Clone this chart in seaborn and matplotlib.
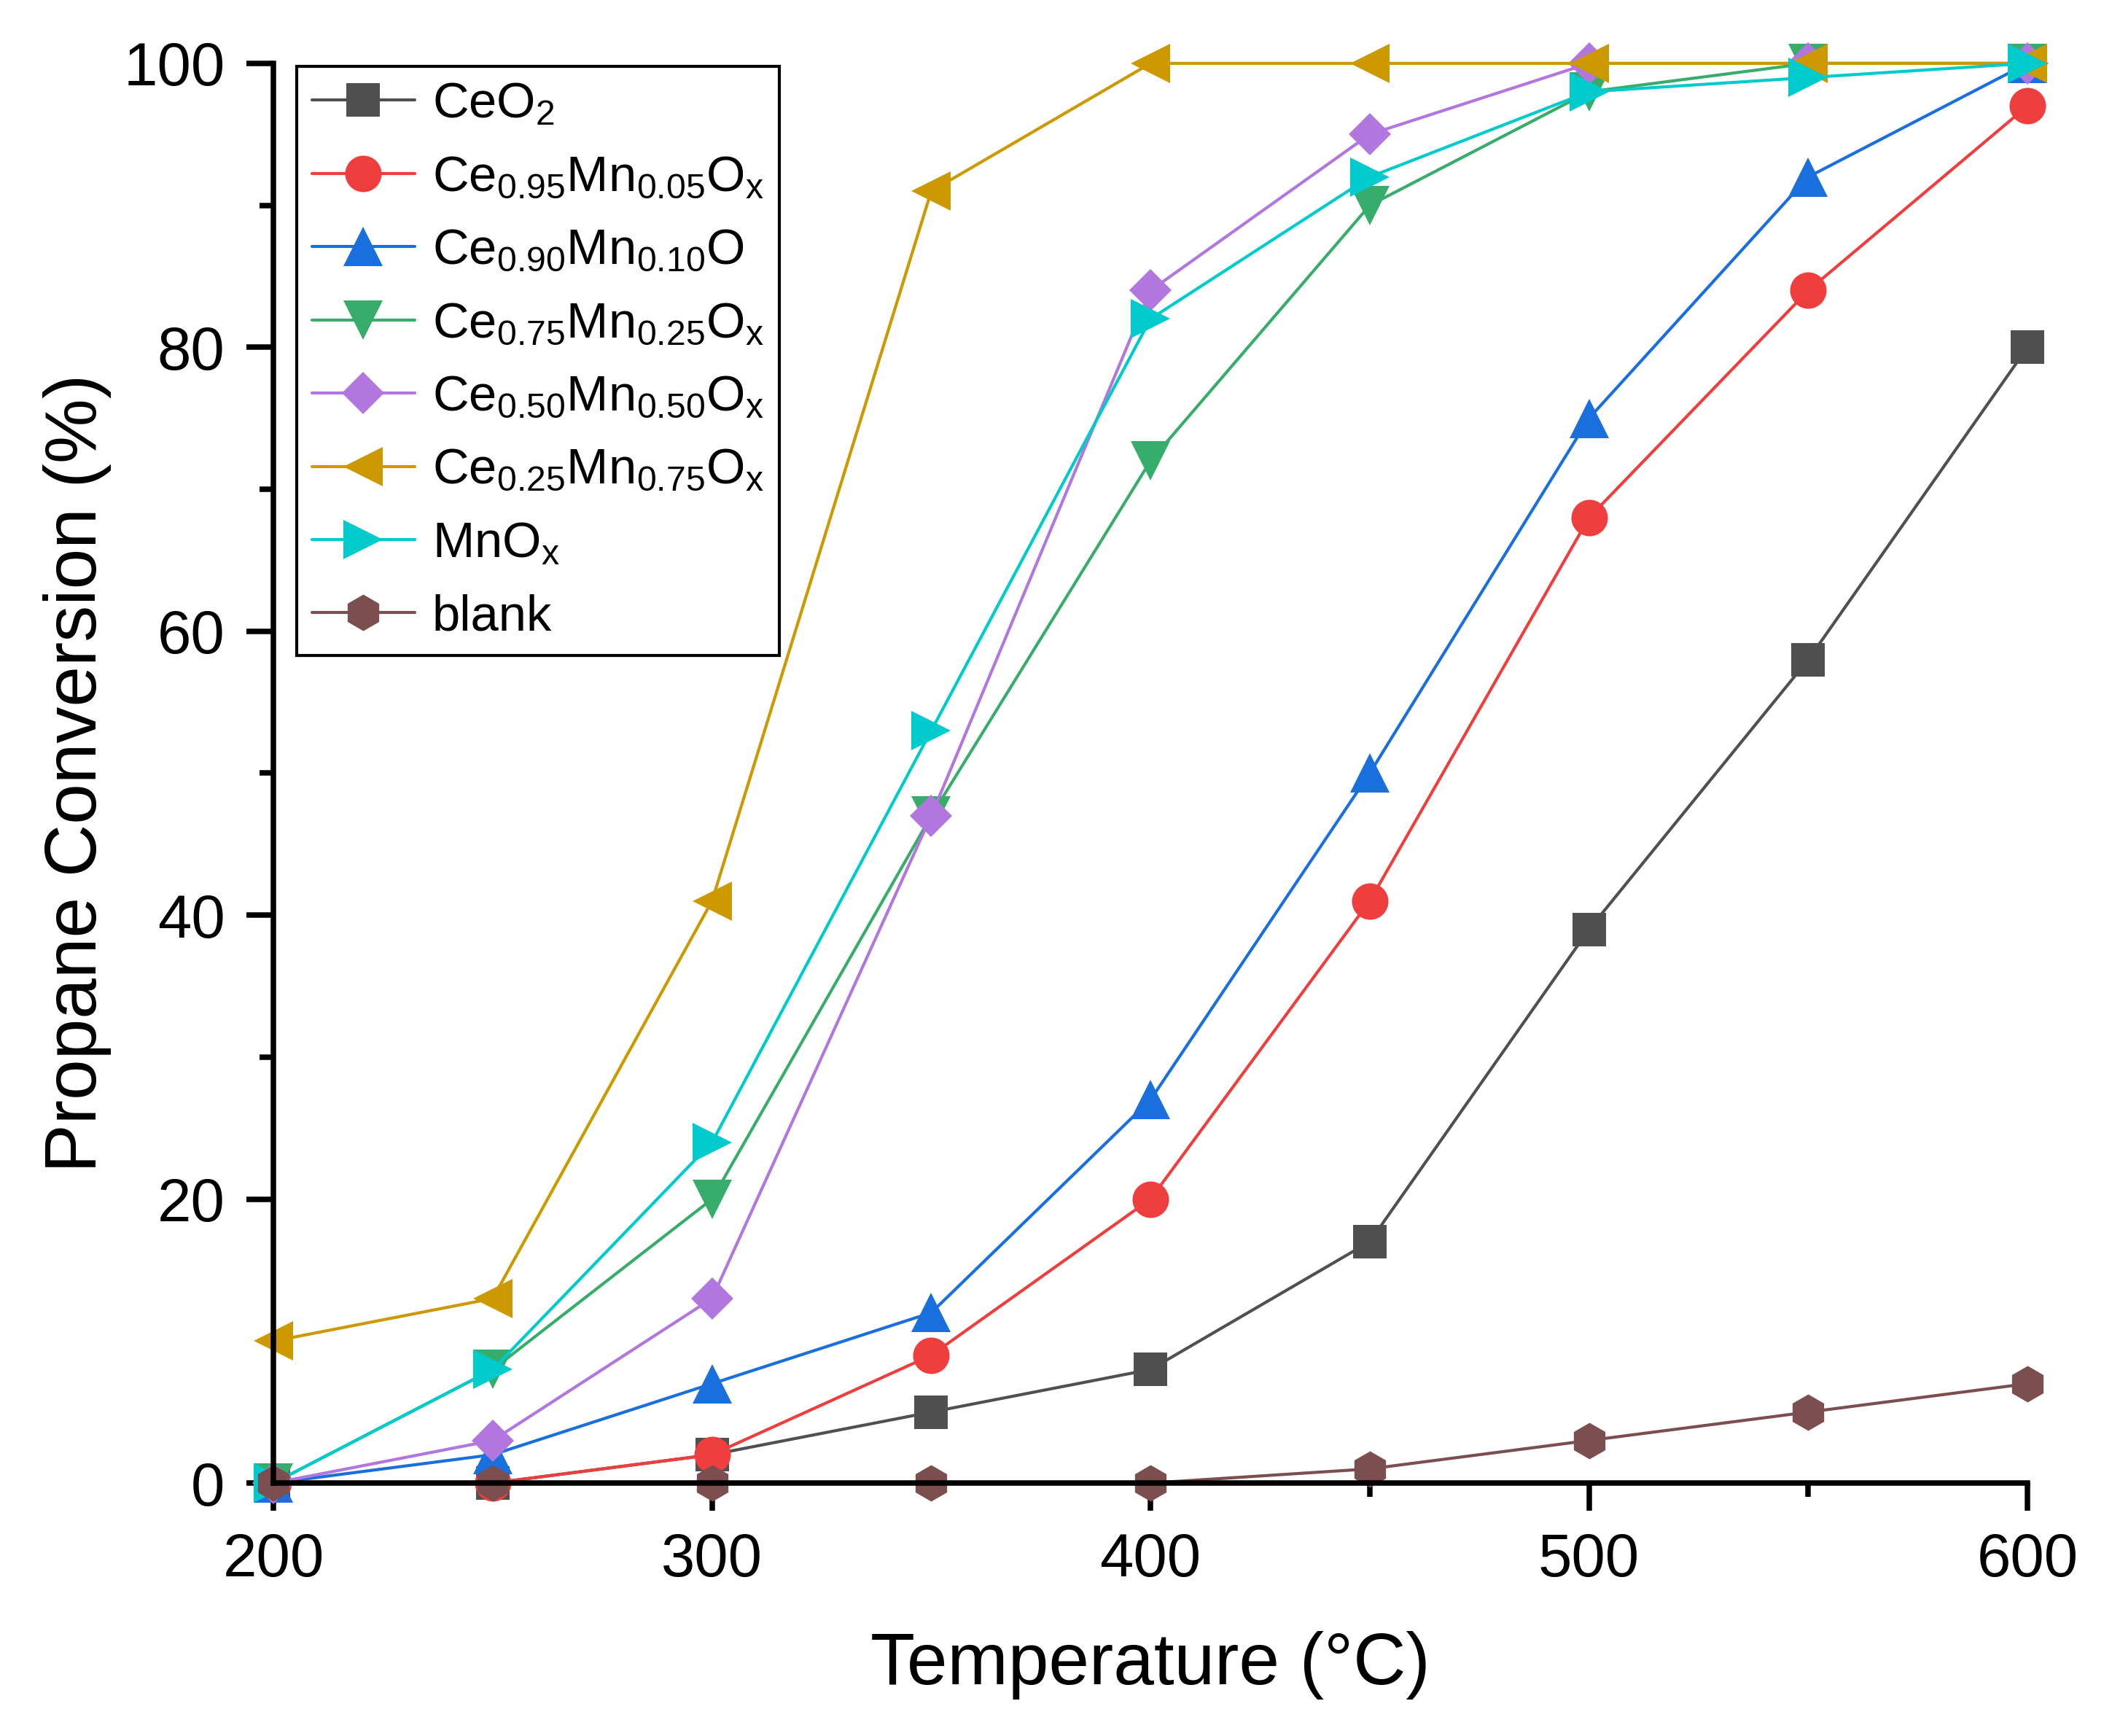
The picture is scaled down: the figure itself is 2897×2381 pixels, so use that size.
import numpy as np
import pandas as pd
import seaborn as sns
import matplotlib.pyplot as plt
from matplotlib.ticker import MultipleLocator

temperature = [200, 250, 300, 350, 400, 450, 500, 550, 600]

ceo2 = [0, 0, 2, 5, 8, 17, 39, 58, 80]
ce095 = [0, 0, 2, 9, 20, 41, 68, 84, 97]
ce090 = [0, 2, 7, 12, 27, 50, 75, 92, 100]
ce075 = [0, 8, 20, 47, 72, 90, 98, 100, 100]
ce050 = [0, 3, 13, 47, 84, 95, 100, 100, 100]
ce025 = [10, 13, 41, 91, 100, 100, 100, 100, 100]
mnox = [0, 8, 24, 53, 82, 92, 98, 99, 100]
blank = [0, 0, 0, 0, 0, 1, 3, 5, 7]

names = [
    r'CeO$_{\mathrm{2}}$',
    r'Ce$_{\mathrm{0.95}}$Mn$_{\mathrm{0.05}}$O$_{\mathrm{x}}$',
    r'Ce$_{\mathrm{0.90}}$Mn$_{\mathrm{0.10}}$O',
    r'Ce$_{\mathrm{0.75}}$Mn$_{\mathrm{0.25}}$O$_{\mathrm{x}}$',
    r'Ce$_{\mathrm{0.50}}$Mn$_{\mathrm{0.50}}$O$_{\mathrm{x}}$',
    r'Ce$_{\mathrm{0.25}}$Mn$_{\mathrm{0.75}}$O$_{\mathrm{x}}$',
    r'MnO$_{\mathrm{x}}$',
    'blank',
]
series = [ceo2, ce095, ce090, ce075, ce050, ce025, mnox, blank]
colors = ['#505050', '#EF3E3E', '#1A6FDF', '#37AD6B', '#B177DE', '#CC9900', '#00CBCC', '#7B4F4F']
marker_list = ['s', 'o', '^', 'v', 'D', '<', '>', 'h']
sizes = [11, 12, 13, 13, 10, 13, 13, 12]

sns.set_style('ticks')
plt.rcParams['font.family'] = ['Liberation Sans', 'DejaVu Sans']
plt.rcParams['mathtext.fontset'] = 'custom'
plt.rcParams['mathtext.rm'] = 'Liberation Sans'
plt.rcParams['mathtext.it'] = 'Liberation Sans'
plt.rcParams['mathtext.bf'] = 'Liberation Sans:bold'
for key in ['text.color', 'axes.labelcolor', 'xtick.color', 'ytick.color', 'axes.edgecolor']:
    plt.rcParams[key] = 'black'

fig = plt.figure(figsize=(2897 / 300, 2381 / 300), dpi=300)
ax = fig.add_axes([0.1295, 0.1457, 0.8305, 0.8178])

for name, vals, c, m, s in zip(names, series, colors, marker_list, sizes):
    df = pd.DataFrame({'T': temperature, 'conv': vals})
    sns.lineplot(data=df, x='T', y='conv', color=c, marker=m, markersize=s,
                 markeredgewidth=0, linewidth=1.0, label=name, clip_on=False,
                 errorbar=None, ax=ax)

ax.set_xlim(200, 600)
ax.set_ylim(0, 100)
ax.xaxis.set_major_locator(MultipleLocator(100))
ax.xaxis.set_minor_locator(MultipleLocator(50))
ax.yaxis.set_major_locator(MultipleLocator(20))
ax.yaxis.set_minor_locator(MultipleLocator(10))
ax.tick_params(which='major', direction='out', length=9, width=1.8, labelsize=20, pad=7)
ax.tick_params(which='minor', direction='out', length=4.5, width=1.8)
sns.despine(ax=ax)
for sp in ['left', 'bottom']:
    ax.spines[sp].set_linewidth(1.8)

ax.set_xlabel('Temperature (°C)', fontsize=24, labelpad=14)
ax.set_ylabel('Propane Conversion (%)', fontsize=24, labelpad=4)

handles, labels = ax.get_legend_handles_labels()
leg = ax.legend(handles, labels, loc='upper left', bbox_to_anchor=(0.0133, 0.998),
                borderaxespad=0, fontsize=16.5, frameon=True, fancybox=False,
                edgecolor='black', framealpha=1, handlelength=2.05,
                handletextpad=0.35, borderpad=0.3, labelspacing=0.53)
leg.get_frame().set_linewidth(1.0)

fig.savefig('out.png', dpi=300)
